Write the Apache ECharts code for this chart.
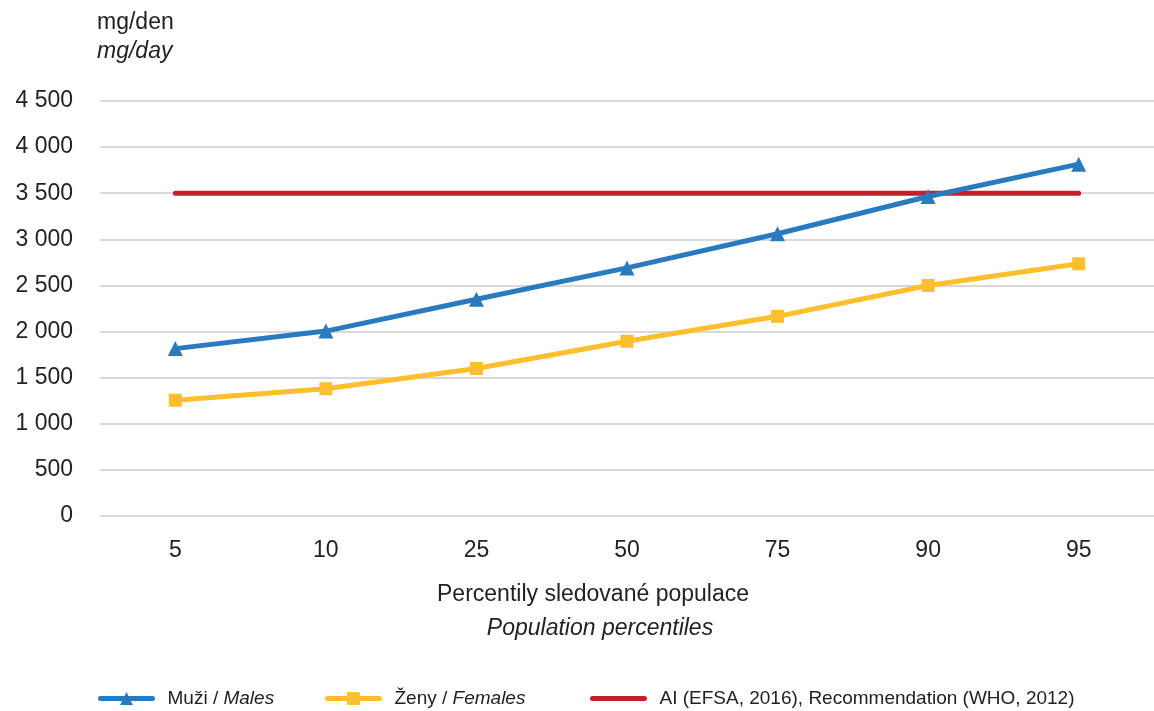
<!DOCTYPE html>
<html>
<head>
<meta charset="utf-8">
<script src="https://cdn.jsdelivr.net/npm/echarts@6/dist/echarts.min.js"></script>
<style>html,body{margin:0;padding:0;background:#fff}#c{width:1154px;height:711px}</style>
</head>
<body>
<div id="c"></div>
<script>
const categories = ['5', '10', '25', '50', '75', '90', '95'];
const males = [1815, 2005, 2350, 2690, 3060, 3465, 3815];
const females = [1255, 1380, 1600, 1895, 2165, 2500, 2735];
const recommendation = [3500, 3500, 3500, 3500, 3500, 3500, 3500];
const yMin = 0, yMax = 4500, yStep = 500;
const unitLines = ['mg/den', 'mg/day'];
const xTitleLines = ['Percentily sledované populace', 'Population percentiles'];

const FONT = '"Liberation Sans", Arial, sans-serif';
const TXT = '#222222';
const chart = echarts.init(document.getElementById('c'), null, {renderer: 'canvas'});

function fmt(v) {
  if (v >= 1000) {
    const r = String(v % 1000).padStart(3, '0');
    return Math.floor(v / 1000) + ' ' + r;
  }
  return String(v);
}

function legendCfg(name, left, textParts, hideSymbol) {
  const cfg = {
    data: [name],
    left: left, top: 689,
    padding: 0,
    itemWidth: 52, itemHeight: 16,
    lineStyle: {width: 5, cap: 'round'},
    textStyle: {
      fontFamily: FONT, fontSize: 19, color: TXT,
      rich: {
        n: {fontFamily: FONT, fontSize: 19, color: TXT, padding: [0, 0, 0, 10]},
        i: {fontFamily: FONT, fontSize: 19, color: TXT, fontStyle: 'italic'}
      }
    },
    formatter: function () { return textParts; }
  };
  if (hideSymbol) cfg.itemStyle = {opacity: 0};
  return cfg;
}

chart.setOption({
  animation: false,
  backgroundColor: '#ffffff',
  grid: {left: 100, right: -8, top: 101, bottom: 195, containLabel: false},
  xAxis: {
    type: 'category',
    data: categories,
    boundaryGap: true,
    axisLine: {show: false},
    axisTick: {show: false},
    axisLabel: {fontFamily: FONT, fontSize: 23, color: TXT, margin: 23}
  },
  yAxis: {
    type: 'value',
    min: yMin, max: yMax, interval: yStep,
    axisLine: {show: false},
    axisTick: {show: false},
    axisLabel: {fontFamily: FONT, fontSize: 23, color: TXT, margin: 27, formatter: fmt},
    splitLine: {lineStyle: {color: '#d9d9d9', width: 2}}
  },
  legend: [
    legendCfg('Muži / Males', 98, '{n|Muži / }{i|Males}', false),
    legendCfg('Ženy / Females', 325, '{n|Ženy / }{i|Females}', false),
    legendCfg('AI (EFSA, 2016), Recommendation (WHO, 2012)', 590, '{n|AI (EFSA, 2016), Recommendation (WHO, 2012)}', true)
  ],
  graphic: [
    {type: 'text', left: 97, top: 11, style: {text: unitLines[0], font: '23px ' + FONT, fill: TXT}},
    {type: 'text', left: 97, top: 40, style: {text: unitLines[1], font: 'italic 23px ' + FONT, fill: TXT}},
    {type: 'text', x: 593, y: 595, style: {text: xTitleLines[0], font: '23px ' + FONT, fill: TXT, align: 'center', verticalAlign: 'middle'}},
    {type: 'text', x: 600, y: 629, style: {text: xTitleLines[1], font: 'italic 23px ' + FONT, fill: TXT, align: 'center', verticalAlign: 'middle'}}
  ],
  series: [
    {
      name: 'AI (EFSA, 2016), Recommendation (WHO, 2012)',
      type: 'line', data: recommendation,
      symbol: 'none',
      lineStyle: {color: '#c4202a', width: 5, cap: 'round'},
      itemStyle: {color: '#c4202a'},
      z: 1
    },
    {
      name: 'Muži / Males',
      type: 'line', data: males,
      symbol: 'triangle', symbolSize: 15,
      lineStyle: {color: '#2a7abf', width: 5, cap: 'round'},
      itemStyle: {color: '#2a7abf'},
      z: 3
    },
    {
      name: 'Ženy / Females',
      type: 'line', data: females,
      symbol: 'rect', symbolSize: 13,
      lineStyle: {color: '#fdbf2d', width: 5, cap: 'round'},
      itemStyle: {color: '#fdbf2d'},
      z: 2
    }
  ]
});
</script>
</body>
</html>
